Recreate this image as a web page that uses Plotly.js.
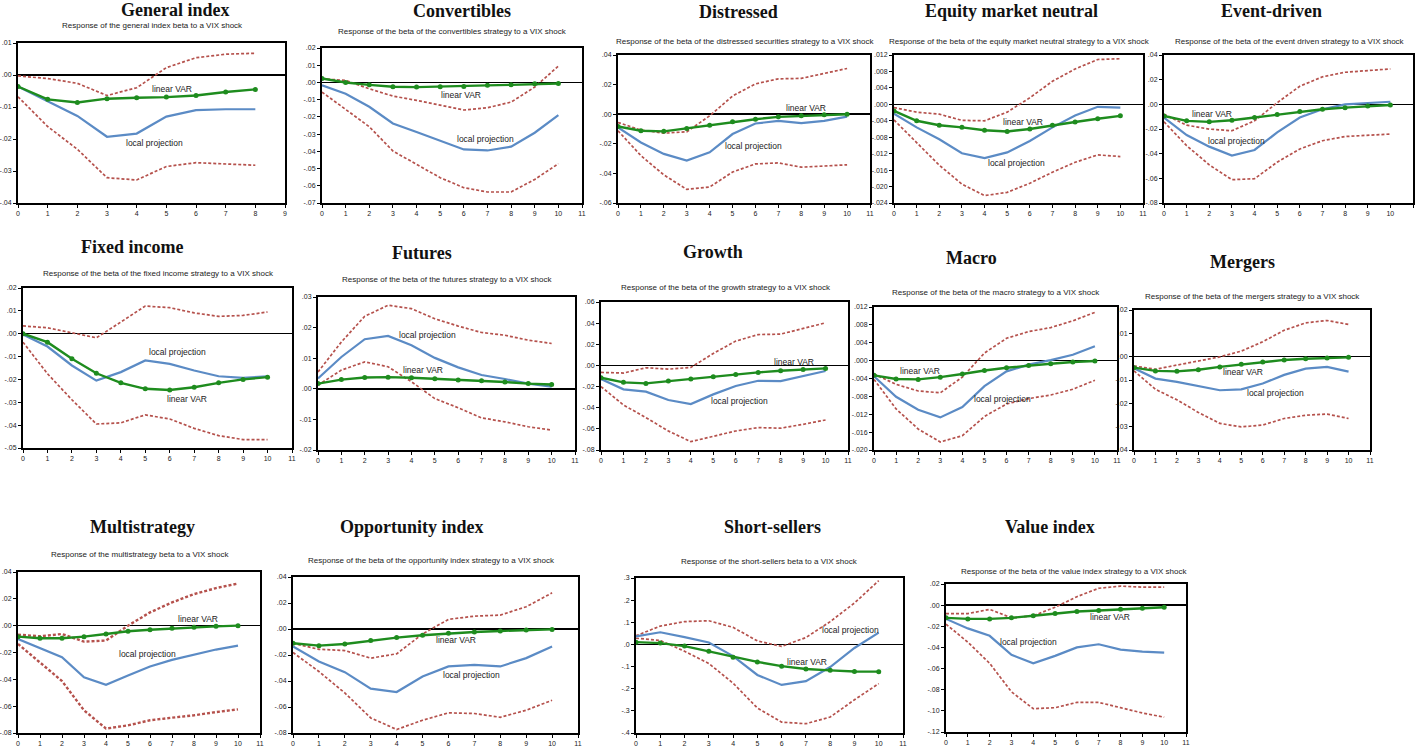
<!DOCTYPE html>
<html><head><meta charset="utf-8">
<script src="https://cdn.plot.ly/plotly-3.0.1.min.js"></script>
<style>html,body{margin:0;padding:0;background:#fff}#c{width:1416px;height:748px}</style>
</head><body><div id="c"></div>
<script>
// ---------- DATA ----------
const lags8  = [0,1,2,3,4,5,6,7,8];
const lags10 = [0,1,2,3,4,5,6,7,8,9,10];

const panelTitles = ["General index","Convertibles","Distressed","Equity market neutral","Event-driven",
  "Fixed income","Futures","Growth","Macro","Mergers",
  "Multistrategy","Opportunity index","Short-sellers","Value index"];
const panelSubtitles = [
  "Response of the general index beta to a VIX shock",
  "Response of the beta of the convertibles strategy to a VIX shock",
  "Response of the beta of the distressed securities strategy to a VIX shock",
  "Response of the beta of the equity market neutral strategy to a VIX shock",
  "Response of the beta of the event driven strategy to a VIX shock",
  "Response of the beta of the fixed income strategy to a VIX shock",
  "Response of the beta of the futures strategy to a VIX shock",
  "Response of the beta of the growth strategy to a VIX shock",
  "Response of the beta of the macro strategy to a VIX shock",
  "Response of the beta of the mergers strategy to a VIX shock",
  "Response of the multistrategy beta to a VIX shock",
  "Response of the beta of the opportunity index strategy to a VIX shock",
  "Response of the short-sellers beta to a VIX shock",
  "Response of the beta of the value index strategy to a VIX shock"];

// General index
const genVAR = [-0.0036,-0.0076,-0.0086,-0.0074,-0.0071,-0.0069,-0.0064,-0.0053,-0.0045];
const genLP  = [-0.0036,-0.0081,-0.0128,-0.0193,-0.0183,-0.0130,-0.0110,-0.0107,-0.0107];
const genUp  = [-0.0003,-0.0011,-0.0026,-0.0064,-0.0040,0.0023,0.0054,0.0065,0.0068];
const genLo  = [-0.0068,-0.0161,-0.0232,-0.0321,-0.0328,-0.0286,-0.0274,-0.0277,-0.0282];
// Convertibles
const cvtVAR = [0.0023,0.0000,-0.0014,-0.0025,-0.0027,-0.0025,-0.0023,-0.0017,-0.0014,-0.0008,-0.0006];
const cvtLP  = [-0.0017,-0.0066,-0.0141,-0.0238,-0.0288,-0.0340,-0.0389,-0.0395,-0.0373,-0.0292,-0.0190];
const cvtUp  = [0.0021,0.0012,-0.0037,-0.0079,-0.0104,-0.0133,-0.0160,-0.0147,-0.0114,-0.0027,0.0095];
const cvtLo  = [-0.0056,-0.0157,-0.0257,-0.0398,-0.0476,-0.0553,-0.0611,-0.0636,-0.0636,-0.0563,-0.0472];
// Distressed
const disVAR = [-0.0083,-0.0112,-0.0116,-0.0096,-0.0074,-0.0051,-0.0034,-0.0018,-0.0011,-0.0004,0.0000];
const disLP  = [-0.0090,-0.0191,-0.0268,-0.0313,-0.0257,-0.0134,-0.0063,-0.0045,-0.0060,-0.0045,-0.0016];
const disUp  = [-0.0056,-0.0107,-0.0128,-0.0119,-0.0011,0.0123,0.0205,0.0239,0.0242,0.0275,0.0309];
const disLo  = [-0.0112,-0.0280,-0.0410,-0.0508,-0.0492,-0.0391,-0.0336,-0.0329,-0.0358,-0.0351,-0.0342];
// Equity market neutral
const emnVAR = [-0.0016,-0.0040,-0.0051,-0.0056,-0.0063,-0.0066,-0.0060,-0.0051,-0.0043,-0.0035,-0.0028];
const emnLP  = [-0.0023,-0.0056,-0.0085,-0.0119,-0.0131,-0.0117,-0.0089,-0.0056,-0.0027,-0.0006,-0.0008];
const emnUp  = [-0.0008,-0.0019,-0.0024,-0.0039,-0.0040,-0.0019,0.0016,0.0056,0.0086,0.0109,0.0111];
const emnLo  = [-0.0038,-0.0094,-0.0148,-0.0194,-0.0222,-0.0214,-0.0192,-0.0165,-0.0141,-0.0123,-0.0127];
// Event-driven
const evdVAR = [-0.0094,-0.0134,-0.0142,-0.0129,-0.0107,-0.0083,-0.0059,-0.0040,-0.0027,-0.0013,-0.0005];
const evdLP  = [-0.0107,-0.0249,-0.0343,-0.0415,-0.0370,-0.0228,-0.0107,-0.0040,0.0000,0.0013,0.0021];
const evdUp  = [-0.0080,-0.0169,-0.0201,-0.0214,-0.0134,0.0013,0.0147,0.0223,0.0260,0.0276,0.0287];
const evdLo  = [-0.0142,-0.0335,-0.0491,-0.0611,-0.0603,-0.0469,-0.0362,-0.0295,-0.0261,-0.0250,-0.0241];
// Fixed income
const fixVAR = [0.0000,-0.0037,-0.0110,-0.0173,-0.0215,-0.0241,-0.0246,-0.0234,-0.0215,-0.0200,-0.0190];
const fixLP  = [-0.0003,-0.0056,-0.0139,-0.0205,-0.0168,-0.0117,-0.0132,-0.0161,-0.0186,-0.0193,-0.0186];
const fixUp  = [0.0034,0.0026,0.0004,-0.0018,0.0051,0.0121,0.0114,0.0091,0.0076,0.0080,0.0095];
const fixLo  = [-0.0037,-0.0175,-0.0289,-0.0395,-0.0390,-0.0355,-0.0373,-0.0414,-0.0446,-0.0463,-0.0463];
// Futures
const futVAR = [0.0017,0.0030,0.0037,0.0038,0.0036,0.0033,0.0029,0.0026,0.0022,0.0017,0.0014];
const futLP  = [0.0034,0.0104,0.0162,0.0173,0.0142,0.0101,0.0070,0.0045,0.0032,0.0017,0.0007];
const futUp  = [0.0055,0.0153,0.0237,0.0273,0.0262,0.0229,0.0205,0.0184,0.0175,0.0159,0.0148];
const futLo  = [0.0012,0.0061,0.0088,0.0072,0.0023,-0.0032,-0.0062,-0.0095,-0.0108,-0.0124,-0.0135];
// Growth
const groVAR = [-0.0116,-0.0160,-0.0170,-0.0148,-0.0129,-0.0107,-0.0085,-0.0066,-0.0050,-0.0038,-0.0028];
const groLP  = [-0.0129,-0.0226,-0.0248,-0.0327,-0.0365,-0.0274,-0.0195,-0.0145,-0.0148,-0.0101,-0.0053];
const groUp  = [-0.0066,-0.0072,-0.0022,-0.0035,-0.0019,0.0113,0.0230,0.0292,0.0296,0.0349,0.0403];
const groLo  = [-0.0200,-0.0374,-0.0494,-0.0620,-0.0721,-0.0673,-0.0620,-0.0588,-0.0594,-0.0557,-0.0516];
// Macro
const macVAR = [-0.0033,-0.0041,-0.0042,-0.0037,-0.0030,-0.0022,-0.0016,-0.0011,-0.0007,-0.0003,-0.0001];
const macLP  = [-0.0035,-0.0081,-0.0110,-0.0127,-0.0104,-0.0057,-0.0024,-0.0009,0.0001,0.0013,0.0032];
const macUp  = [-0.0030,-0.0053,-0.0068,-0.0072,-0.0037,0.0017,0.0050,0.0065,0.0074,0.0089,0.0108];
const macLo  = [-0.0042,-0.0108,-0.0153,-0.0182,-0.0168,-0.0125,-0.0097,-0.0085,-0.0077,-0.0064,-0.0044];
// Mergers
const merVAR = [-0.0047,-0.0061,-0.0063,-0.0056,-0.0044,-0.0033,-0.0023,-0.0014,-0.0009,-0.0006,-0.0003];
const merLP  = [-0.0050,-0.0094,-0.0108,-0.0125,-0.0144,-0.0140,-0.0115,-0.0078,-0.0051,-0.0044,-0.0064];
const merUp  = [-0.0040,-0.0054,-0.0036,-0.0019,-0.0001,0.0024,0.0064,0.0113,0.0145,0.0155,0.0138];
const merLo  = [-0.0061,-0.0140,-0.0185,-0.0239,-0.0286,-0.0301,-0.0293,-0.0265,-0.0251,-0.0246,-0.0265];
// Multistrategy
const mulVAR = [-0.0082,-0.0094,-0.0094,-0.0082,-0.0062,-0.0042,-0.0030,-0.0020,-0.0012,-0.0005,0.0000];
const mulLP  = [-0.0099,-0.0166,-0.0235,-0.0384,-0.0441,-0.0371,-0.0304,-0.0255,-0.0215,-0.0178,-0.0149];
const mulUp  = [-0.0067,-0.0079,-0.0062,-0.0119,-0.0111,0.0000,0.0099,0.0173,0.0235,0.0280,0.0314];
const mulLo  = [-0.0136,-0.0272,-0.0413,-0.0631,-0.0767,-0.0743,-0.0705,-0.0686,-0.0668,-0.0644,-0.0624];
// Opportunity index
const oppVAR = [-0.0110,-0.0128,-0.0115,-0.0089,-0.0066,-0.0048,-0.0033,-0.0023,-0.0015,-0.0008,-0.0003];
const oppLP  = [-0.0135,-0.0250,-0.0332,-0.0459,-0.0485,-0.0365,-0.0288,-0.0276,-0.0288,-0.0224,-0.0135];
const oppUp  = [-0.0110,-0.0156,-0.0166,-0.0224,-0.0191,-0.0038,0.0074,0.0099,0.0107,0.0171,0.0278];
const oppLo  = [-0.0181,-0.0327,-0.0492,-0.0684,-0.0773,-0.0702,-0.0645,-0.0650,-0.0679,-0.0625,-0.0548];
// Short-sellers
const shsVAR = [0.0104,0.0060,-0.0074,-0.0310,-0.0580,-0.0790,-0.0980,-0.1110,-0.1170,-0.1220,-0.1230];
const shsLP  = [0.0360,0.0550,0.0330,0.0090,-0.0530,-0.1380,-0.1830,-0.1660,-0.1020,-0.0160,0.0530];
const shsUp  = [0.0390,0.0830,0.1030,0.1070,0.0770,0.0160,-0.0090,0.0310,0.1030,0.1870,0.2880];
const shsLo  = [0.0280,0.0180,-0.0310,-0.0860,-0.1750,-0.2870,-0.3510,-0.3580,-0.3280,-0.2500,-0.1770];
// Value index
const valVAR = [-0.0120,-0.0130,-0.0130,-0.0120,-0.0100,-0.0080,-0.0060,-0.0050,-0.0040,-0.0030,-0.0020];
const valLP  = [-0.0130,-0.0220,-0.0290,-0.0470,-0.0550,-0.0480,-0.0400,-0.0370,-0.0420,-0.0440,-0.0450];
const valUp  = [-0.0080,-0.0080,-0.0040,-0.0120,-0.0100,-0.0020,0.0080,0.0160,0.0180,0.0170,0.0170];
const valLo  = [-0.0180,-0.0350,-0.0550,-0.0820,-0.0980,-0.0970,-0.0920,-0.0920,-0.0970,-0.1020,-0.1060];

// ---------- PANEL CONFIG (axes / placement) ----------
const panels = [
 {lags:lags8, s:[genVAR,genLP,genUp,genLo], y:[-0.04,0.01,0.01,2], xmax:9, box:[18,285,43,203], t:[175,10], st:[152,25], lv:[5.2,-0.0043], lp:[4.6,-0.0212]},
 {lags:lags10,s:[cvtVAR,cvtLP,cvtUp,cvtLo], y:[-0.07,0.02,0.01,2], xmax:11, box:[322,582,48,203], t:[462,11], st:[452,32], lv:[5.9,-0.0070], lp:[6.9,-0.0330]},
 {lags:lags10,s:[disVAR,disLP,disUp,disLo], y:[-0.06,0.04,0.02,2], xmax:11, box:[618,870,55,203], t:[738,12], st:[745,41], lv:[8.2,0.0045], lp:[5.9,-0.0212]},
 {lags:lags10,s:[emnVAR,emnLP,emnUp,emnLo], y:[-0.024,0.012,0.004,3], xmax:11, box:[894,1143,55,203], t:[1011,11], st:[1019,41], lv:[5.7,-0.0044], lp:[5.4,-0.0143]},
 {lags:lags10,s:[evdVAR,evdLP,evdUp,evdLo], y:[-0.08,0.04,0.02,2], xmax:11, box:[1164,1413,55,203], t:[1271,11], st:[1290,41], lv:[2.1,-0.0080], lp:[3.2,-0.0295]},
 {lags:lags10,s:[fixVAR,fixLP,fixUp,fixLo], y:[-0.05,0.02,0.01,2], xmax:11, box:[23,292,288,448], t:[132,247], st:[158,273], lv:[6.7,-0.0285], lp:[6.3,-0.0080]},
 {lags:lags10,s:[futVAR,futLP,futUp,futLo], y:[-0.02,0.03,0.01,2], xmax:11, box:[318,575,297,450], t:[422,253], st:[447,280], lv:[4.5,0.0063], lp:[4.7,0.0175]},
 {lags:lags10,s:[groVAR,groLP,groUp,groLo], y:[-0.08,0.06,0.02,2], xmax:11, box:[601,848,302,450], t:[713,252], st:[726,287], lv:[8.6,0.0035], lp:[6.15,-0.0333]},
 {lags:lags10,s:[macVAR,macLP,macUp,macLo], y:[-0.020,0.012,0.004,3], xmax:11, box:[874,1117,307,450], t:[972,258], st:[996,292], lv:[2.1,-0.0024], lp:[5.8,-0.0085]},
 {lags:lags10,s:[merVAR,merLP,merUp,merLo], y:[-0.04,0.02,0.01,2], xmax:11, box:[1134,1370,310,450], t:[1242,262], st:[1252,297], lv:[5.1,-0.0066], lp:[6.6,-0.0154]},
 {lags:lags10,s:[mulVAR,mulLP,mulUp,mulLo], y:[-0.08,0.04,0.02,2], xmax:11, box:[18,260,572,733], t:[142,527], st:[140,554], lv:[8.2,0.0050], lp:[5.9,-0.0210]},
 {lags:lags10,s:[oppVAR,oppLP,oppUp,oppLo], y:[-0.08,0.04,0.02,2], xmax:11, box:[293,578,577,733], t:[412,527], st:[431,560], lv:[6.3,-0.0084], lp:[6.9,-0.0350]},
 {lags:lags10,s:[shsVAR,shsLP,shsUp,shsLo], y:[-0.4,0.3,0.1,1], xmax:11, box:[636,903,578,733], t:[773,527], st:[769,561], lv:[7.05,-0.080], lp:[8.85,0.065]},
 {lags:lags10,s:[valVAR,valLP,valUp,valLo], y:[-0.12,0.02,0.02,2], xmax:11, box:[946,1186,584,732], t:[1050,527], st:[1074,571], lv:[7.5,-0.0110], lp:[3.8,-0.0350]}
];

const W = 1416, H = 748;
const GREEN = "#1e8c1e", BLUE = "#5b8bc5", RED = "#b5514c";
const SERIF = "'Liberation Serif', 'Times New Roman', 'DejaVu Serif', serif";
const SANS = "'Liberation Sans', Arial, sans-serif";
function fmt(v, d) {
  let s = Math.abs(v) < 1e-12 ? (0).toFixed(d) : v.toFixed(d);
  return s.replace(/^(-?)0\./, "$1.");
}

const traces = [];
const layout = {
  width: W, height: H, margin: {l:0, r:0, t:0, b:0},
  paper_bgcolor: "#fff", plot_bgcolor: "#fff",
  showlegend: false, annotations: []
};

panels.forEach((p, i) => {
  const n = i + 1;
  const xa = n === 1 ? "x" : "x" + n, ya = n === 1 ? "y" : "y" + n;
  const xk = n === 1 ? "xaxis" : "xaxis" + n, yk = n === 1 ? "yaxis" : "yaxis" + n;
  const [L, R, T, B] = p.box;
  const [ymin, ymax, step, dec] = p.y;
  const tv = [], tt = [];
  const nt = Math.round((ymax - ymin) / step);
  for (let k = 0; k <= nt; k++) { const v = ymin + k * step; tv.push(v); tt.push(fmt(v, dec)); }
  const xv = []; for (let k = 0; k <= p.xmax; k++) xv.push(k);

  layout[xk] = {
    domain: [L / W, R / W], range: [0, p.xmax], anchor: ya,
    tickvals: xv, ticktext: xv.map(String), ticks: "outside", ticklen: 3, tickwidth: 1, tickcolor: "#000",
    showgrid: false, zeroline: false, showline: true, mirror: true, linewidth: 2, linecolor: "#000",
    tickfont: {family: SANS, size: 7, color: "#222"}, fixedrange: true
  };
  layout[yk] = {
    domain: [1 - B / H, 1 - T / H], range: [ymin, ymax], anchor: xa,
    tickvals: tv, ticktext: tt, ticks: "outside", ticklen: 3, tickwidth: 1, tickcolor: "#000",
    showgrid: false, zeroline: true, zerolinecolor: "#000", zerolinewidth: 1.5,
    showline: true, mirror: true, linewidth: 2, linecolor: "#000",
    tickfont: {family: SANS, size: 7, color: "#222"}, fixedrange: true
  };

  const [vVar, vLP, vUp, vLo] = p.s;
  const redW = (i === 10) ? 2.4 : 1.7;
  traces.push({x: p.lags, y: vUp, xaxis: xa, yaxis: ya, mode: "lines", line: {color: RED, width: redW, dash: "3px,2px"}, hoverinfo: "skip"});
  traces.push({x: p.lags, y: vLo, xaxis: xa, yaxis: ya, mode: "lines", line: {color: RED, width: redW, dash: "3px,2px"}, hoverinfo: "skip"});
  traces.push({x: p.lags, y: vLP, xaxis: xa, yaxis: ya, mode: "lines", line: {color: BLUE, width: 2.2}, hoverinfo: "skip"});
  traces.push({x: p.lags, y: vVar, xaxis: xa, yaxis: ya, mode: "lines+markers", line: {color: GREEN, width: 2.4}, marker: {color: GREEN, size: 5}, hoverinfo: "skip"});

  layout.annotations.push({xref: "paper", yref: "paper", x: p.t[0] / W, y: 1 - p.t[1] / H, text: "<b>" + panelTitles[i] + "</b>",
    showarrow: false, xanchor: "center", yanchor: "middle", font: {family: SERIF, size: 18, color: "#111"}});
  layout.annotations.push({xref: "paper", yref: "paper", x: p.st[0] / W, y: 1 - p.st[1] / H, text: panelSubtitles[i],
    showarrow: false, xanchor: "center", yanchor: "middle", font: {family: SANS, size: 8, color: "#222"}});
  layout.annotations.push({xref: xa, yref: ya, x: p.lv[0], y: p.lv[1], text: "linear VAR", showarrow: false,
    xanchor: "center", yanchor: "middle", font: {family: SANS, size: 8.5, color: "#222"}});
  layout.annotations.push({xref: xa, yref: ya, x: p.lp[0], y: p.lp[1], text: "local projection", showarrow: false,
    xanchor: "center", yanchor: "middle", font: {family: SANS, size: 8.5, color: "#222"}});
});

Plotly.newPlot("c", traces, layout, {staticPlot: true, displayModeBar: false});
</script>
</body></html>
